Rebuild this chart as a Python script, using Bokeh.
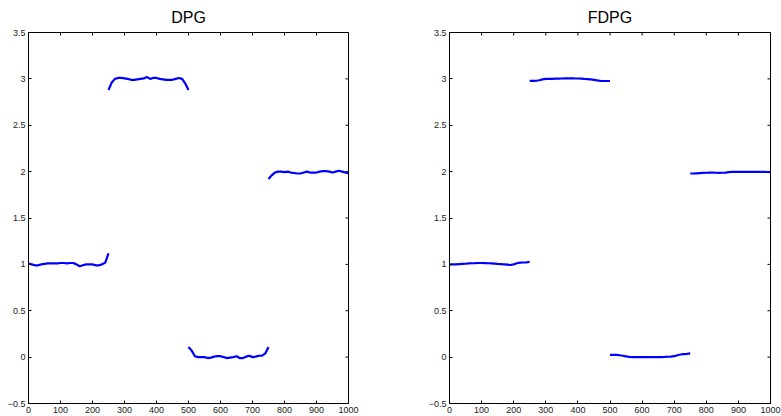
from bokeh.plotting import figure
from bokeh.models import FixedTicker, Range1d
from bokeh.layouts import row
from bokeh.embed import file_html
from bokeh.resources import INLINE

# ---------------- data ----------------
x_seg1 = [0, 10, 20, 30, 40, 50, 60, 70, 80, 90, 100, 110, 120, 130, 140, 150, 160, 170, 180, 190, 200, 210, 220, 230, 240, 250]
x_seg2 = [250, 260, 270, 280, 290, 300, 310, 320, 330, 340, 350, 360, 370, 380, 390, 400, 410, 420, 430, 440, 450, 460, 470, 480, 490, 500]
x_seg3 = [500, 510, 520, 530, 540, 550, 560, 570, 580, 590, 600, 610, 620, 630, 640, 650, 660, 670, 680, 690, 700, 710, 720, 730, 740, 750]
x_seg4 = [750, 760, 770, 780, 790, 800, 810, 820, 830, 840, 850, 860, 870, 880, 890, 900, 910, 920, 930, 940, 950, 960, 970, 980, 990, 1000]

dpg_seg1 = [1.01, 1.0, 0.99, 0.99, 1.0, 1.005, 1.01, 1.01, 1.01, 1.01, 1.015, 1.015, 1.01, 1.015, 1.015, 1.0, 0.98, 0.99, 1.0, 1.0, 1.0, 0.99, 0.99, 1.0, 1.02, 1.12]
dpg_seg2 = [2.88, 2.96, 3.0, 3.01, 3.01, 3.005, 3.0, 2.99, 2.99, 2.995, 3.0, 3.005, 3.02, 3.0, 3.01, 3.01, 3.0, 2.995, 2.99, 2.99, 2.99, 3.0, 3.01, 3.0, 2.95, 2.88]
dpg_seg3 = [0.11, 0.07, 0.01, 0.0, 0.0, 0.0, -0.01, -0.005, 0.005, 0.01, 0.01, 0.0, -0.01, -0.005, 0.0, 0.01, -0.01, -0.01, 0.005, 0.015, 0.0, 0.005, 0.015, 0.015, 0.04, 0.11]
dpg_seg4 = [1.92, 1.96, 1.99, 2.0, 2.0, 1.995, 2.0, 1.99, 1.985, 1.98, 1.98, 1.99, 2.0, 1.99, 1.99, 1.99, 2.0, 2.005, 2.005, 2.0, 1.99, 2.0, 2.01, 2.0, 1.99, 1.98]

fdpg_seg1 = [1.0, 1.0, 1.0, 1.003, 1.005, 1.007, 1.01, 1.012, 1.013, 1.015, 1.015, 1.014, 1.012, 1.01, 1.008, 1.005, 1.003, 1.0, 0.997, 0.993, 1.0, 1.012, 1.018, 1.02, 1.022, 1.028]
fdpg_seg2 = [2.978, 2.978, 2.98, 2.985, 2.995, 3.0, 3.0, 3.0, 3.002, 3.003, 3.004, 3.005, 3.006, 3.007, 3.005, 3.004, 3.003, 3.0, 2.998, 2.995, 2.99, 2.983, 2.978, 2.977, 2.977, 2.977]
fdpg_seg3 = [0.025, 0.025, 0.024, 0.02, 0.015, 0.008, 0.002, 0.0, 0.0, 0.0, 0.0, 0.001, 0.001, 0.0, 0.0, 0.0, 0.001, 0.002, 0.004, 0.006, 0.01, 0.02, 0.028, 0.033, 0.036, 0.04]
fdpg_seg4 = [1.98, 1.98, 1.982, 1.984, 1.986, 1.988, 1.99, 1.99, 1.988, 1.987, 1.988, 1.99, 1.994, 1.997, 1.998, 1.998, 1.998, 1.998, 1.998, 1.998, 1.998, 1.998, 1.998, 1.997, 1.996, 1.995]

x_ticks = [0, 100, 200, 300, 400, 500, 600, 700, 800, 900, 1000]
x_tick_labels = ["0", "100", "200", "300", "400", "500", "600", "700", "800", "900", "1000"]
y_ticks = [-0.5, 0, 0.5, 1, 1.5, 2, 2.5, 3, 3.5]
y_tick_labels = ["\u22120.5", "0", "0.5", "1", "1.5", "2", "2.5", "3", "3.5"]

titles = ["DPG", "FDPG"]

FONT = "Liberation Sans"
X_MIN, X_MAX, Y_MIN, Y_MAX = 0, 1000, -0.5, 3.5
FRAME_H = 371
TICK_PX = 3


def make_fig(title, segs, left, fw, right):
    p = figure(width=left + fw + right, height=416, frame_width=fw, frame_height=FRAME_H,
               x_range=Range1d(X_MIN, X_MAX), y_range=Range1d(Y_MIN, Y_MAX),
               output_backend="svg", toolbar_location=None, title=title,
               min_border_left=left, min_border_right=right,
               min_border_top=32, min_border_bottom=13)
    p.title.align = "center"
    p.title.text_font = FONT
    p.title.text_font_size = "16px"
    p.title.text_font_style = "normal"
    p.title.text_color = "#000000"
    p.title.standoff = 13
    p.xgrid.visible = False
    p.ygrid.visible = False
    p.outline_line_color = "#000000"
    p.outline_line_width = 1
    p.background_fill_color = "white"
    p.border_fill_color = "white"

    for ax in p.xaxis:
        ax.ticker = FixedTicker(ticks=x_ticks)
        ax.major_label_overrides = {t: l for t, l in zip(x_ticks, x_tick_labels)}
    for ax in p.yaxis:
        ax.ticker = FixedTicker(ticks=y_ticks)
        ax.major_label_overrides = {t: l for t, l in zip(y_ticks, y_tick_labels)}
    for ax in p.axis:
        ax.major_tick_in = TICK_PX
        ax.major_tick_out = 0
        ax.minor_tick_in = 0
        ax.minor_tick_out = 0
        ax.axis_line_color = "#000000"
        ax.major_tick_line_color = "#000000"
        ax.major_label_text_font = FONT
        ax.major_label_text_font_size = "9px"
        ax.major_label_text_color = "#1a1a1a"
        ax.major_label_standoff = 3

    # inward ticks on the top and right edges of the box (MATLAB style)
    dx = TICK_PX * (X_MAX - X_MIN) / fw
    dy = TICK_PX * (Y_MAX - Y_MIN) / FRAME_H
    p.segment(x0=x_ticks, y0=[Y_MAX] * len(x_ticks), x1=x_ticks, y1=[Y_MAX - dy] * len(x_ticks),
              line_color="#000000", line_width=1)
    p.segment(x0=[X_MAX] * len(y_ticks), y0=y_ticks, x1=[X_MAX - dx] * len(y_ticks), y1=y_ticks,
              line_color="#000000", line_width=1)

    for xs, ys in segs:
        p.line(xs, ys, line_color="#0000FF", line_width=2.2)
    return p


p1 = make_fig(titles[0], [(x_seg1, dpg_seg1), (x_seg2, dpg_seg2), (x_seg3, dpg_seg3), (x_seg4, dpg_seg4)], 28, 320, 42)
p2 = make_fig(titles[1], [(x_seg1, fdpg_seg1), (x_seg2, fdpg_seg2), (x_seg3, fdpg_seg3), (x_seg4, fdpg_seg4)], 59, 321, 11)

layout = row(p1, p2)
open("out.html", "w").write(file_html(layout, INLINE))
